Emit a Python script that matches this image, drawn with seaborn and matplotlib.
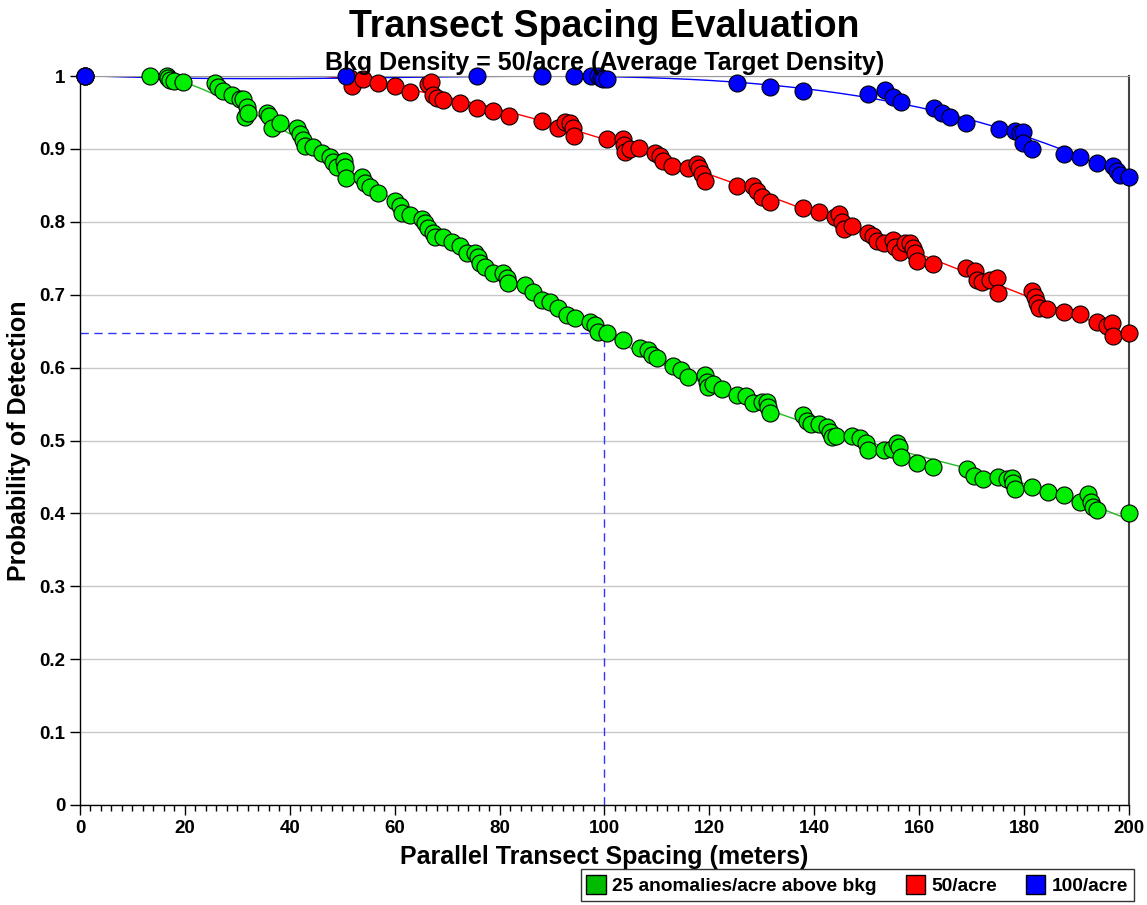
import matplotlib
matplotlib.use("Agg")
import matplotlib.pyplot as plt
from matplotlib.patches import Patch
from matplotlib.ticker import MultipleLocator
import numpy as np
import pandas as pd
import seaborn as sns

# values
green_x = [1.0, 13.3, 16.6, 16.8, 17.2, 17.9, 19.6, 25.7, 26.3, 27.3, 29.0, 30.5, 31.1, 31.8, 32.0, 31.5,
           35.7, 36.0, 36.6, 38.1, 41.4, 41.9, 42.5, 42.9, 44.4, 46.1, 47.7, 48.2, 49.0, 50.3, 50.5, 50.7,
           53.8, 54.3, 55.3, 56.8, 60.1, 61.0, 61.4, 62.9, 65.2, 65.8, 66.3, 67.3, 67.7, 69.2, 70.9, 72.5,
           73.8, 75.3, 75.9, 76.3, 77.2, 78.7, 80.6, 81.4, 81.6, 84.8, 86.4, 88.1, 89.6, 91.1, 92.8, 94.4,
           97.2, 98.2, 98.8, 100.5, 103.5, 106.8, 108.3, 109.1, 110.0, 113.1, 114.6, 115.9, 119.2, 119.5,
           119.7, 120.7, 122.4, 125.3, 127.0, 128.3, 130.0, 131.0, 131.2, 131.6, 137.8, 138.6, 139.4, 140.9,
           142.4, 143.0, 143.4, 144.1, 147.2, 148.7, 149.9, 150.2, 153.3, 154.8, 155.8, 156.1, 156.5, 159.6,
           162.6, 169.1, 170.5, 172.2, 175.0, 176.7, 177.7, 177.9, 178.3, 181.5, 184.6, 187.6, 190.7, 192.2,
           192.8, 193.1, 193.9, 200.0]
green_y = [1.000, 1.000, 1.000, 0.997, 0.995, 0.993, 0.992, 0.990, 0.985, 0.979, 0.974, 0.968, 0.968, 0.957,
           0.949, 0.944, 0.949, 0.945, 0.929, 0.936, 0.929, 0.920, 0.912, 0.904, 0.903, 0.894, 0.889, 0.882,
           0.875, 0.883, 0.875, 0.860, 0.861, 0.853, 0.848, 0.840, 0.829, 0.822, 0.812, 0.809, 0.804, 0.798,
           0.791, 0.785, 0.779, 0.779, 0.772, 0.767, 0.757, 0.757, 0.752, 0.743, 0.738, 0.730, 0.730, 0.723,
           0.716, 0.713, 0.704, 0.693, 0.690, 0.682, 0.672, 0.668, 0.663, 0.658, 0.649, 0.647, 0.638, 0.627,
           0.624, 0.617, 0.613, 0.602, 0.597, 0.587, 0.590, 0.580, 0.573, 0.578, 0.571, 0.562, 0.561, 0.551,
           0.553, 0.553, 0.546, 0.538, 0.535, 0.527, 0.523, 0.523, 0.519, 0.512, 0.505, 0.506, 0.506, 0.503,
           0.497, 0.487, 0.487, 0.488, 0.497, 0.491, 0.477, 0.469, 0.464, 0.461, 0.451, 0.447, 0.450, 0.447,
           0.449, 0.442, 0.433, 0.436, 0.429, 0.425, 0.416, 0.427, 0.416, 0.409, 0.405, 0.401]

red_x = [1.0, 51.5, 51.9, 54.0, 56.8, 60.1, 62.9, 66.3, 66.9, 67.3, 68.1, 69.2, 72.5, 75.7, 78.7, 81.8,
         88.1, 91.1, 92.5, 93.4, 94.0, 94.2, 100.5, 103.5, 103.7, 103.9, 104.9, 106.6, 109.6, 110.6, 111.2,
         112.9, 115.9, 117.6, 118.0, 118.6, 119.2, 125.3, 128.3, 129.1, 130.0, 131.6, 137.8, 140.9, 143.9,
         144.7, 145.3, 145.7, 147.2, 150.2, 151.2, 152.0, 153.3, 155.0, 155.4, 156.3, 157.3, 158.2, 158.8,
         159.2, 159.6, 162.6, 168.9, 170.6, 171.0, 172.0, 173.5, 174.8, 175.0, 181.5, 182.1, 182.5, 182.8,
         184.4, 187.6, 190.7, 193.9, 195.8, 196.8, 196.9, 200.0]
red_y = [1.000, 0.997, 0.986, 0.996, 0.990, 0.986, 0.978, 0.989, 0.992, 0.974, 0.970, 0.967, 0.963, 0.956,
         0.952, 0.945, 0.938, 0.929, 0.937, 0.936, 0.929, 0.918, 0.914, 0.914, 0.905, 0.896, 0.900, 0.901,
         0.894, 0.890, 0.883, 0.877, 0.874, 0.879, 0.874, 0.866, 0.856, 0.849, 0.849, 0.842, 0.834, 0.827,
         0.819, 0.813, 0.807, 0.811, 0.800, 0.790, 0.794, 0.785, 0.781, 0.774, 0.771, 0.775, 0.765, 0.759,
         0.771, 0.771, 0.764, 0.757, 0.746, 0.742, 0.737, 0.733, 0.720, 0.717, 0.720, 0.723, 0.702, 0.705,
         0.697, 0.689, 0.682, 0.680, 0.676, 0.674, 0.663, 0.657, 0.661, 0.643, 0.647]

blue_x = [1.0, 50.7, 75.7, 88.1, 94.2, 97.4, 98.8, 99.3, 99.7, 100.5, 125.3, 131.6, 137.8, 150.2, 153.5,
          155.0, 156.5, 162.8, 164.3, 165.9, 168.9, 175.2, 178.3, 179.2, 179.8, 179.8, 181.5, 187.6, 190.7,
          193.9, 196.9, 197.7, 198.3, 200.0]
blue_y = [1.000, 1.000, 1.000, 1.000, 1.000, 1.000, 1.000, 0.997, 0.996, 0.996, 0.990, 0.985, 0.979, 0.975,
          0.981, 0.971, 0.964, 0.956, 0.949, 0.944, 0.936, 0.927, 0.925, 0.922, 0.923, 0.908, 0.900, 0.893,
          0.889, 0.881, 0.876, 0.870, 0.864, 0.861]

ref_spacing = 100
ref_pd = 0.647

y_ticks = [0, 0.1, 0.2, 0.3, 0.4, 0.5, 0.6, 0.7, 0.8, 0.9, 1]
y_ticklabels = ["0", "0.1", "0.2", "0.3", "0.4", "0.5", "0.6", "0.7", "0.8", "0.9", "1"]

series = [
    ("25 anomalies/acre above bkg", green_x, green_y, "#00ee00", "#22bb22", "#00bb00"),
    ("50/acre", red_x, red_y, "#ff0000", "#ff0000", "#ff0000"),
    ("100/acre", blue_x, blue_y, "#0000ff", "#0000ff", "#0000ff"),
]

sns.set_style("white")
plt.rcParams['font.family'] = ['Liberation Sans', 'DejaVu Sans']
plt.rcParams['font.weight'] = 'bold'
plt.rcParams['text.color'] = 'black'
plt.rcParams['xtick.color'] = 'black'
plt.rcParams['ytick.color'] = 'black'
plt.rcParams['axes.labelcolor'] = 'black'

fig = plt.figure(figsize=(11.47, 9.05), dpi=100)
ax = fig.add_axes([0.0697, 0.1105, 0.9146, 0.8055])

for name, xs, ys, fc, lc, _ in series:
    df = pd.DataFrame({"x": xs, "y": ys}).sort_values("x")
    # smooth trend through the points
    coef = np.polyfit(df["x"], df["y"], 4)
    xx = np.linspace(df["x"].min(), df["x"].max(), 300)
    yy = np.clip(np.polyval(coef, xx), None, 1.0)
    sns.lineplot(x=xx, y=yy, ax=ax, color=lc, lw=1, zorder=2)
    sns.scatterplot(data=df, x="x", y="y", ax=ax, color=fc, edgecolor="black",
                    linewidth=0.8, s=150, zorder=3, clip_on=False)

# reference dashed lines
ax.plot([0, ref_spacing], [ref_pd, ref_pd], ls=(0, (6, 4)), color="#3333ff", lw=1, zorder=1)
ax.plot([ref_spacing, ref_spacing], [0, ref_pd], ls=(0, (6, 4)), color="#3333ff", lw=1, zorder=1)

ax.set_xlim(0, 200)
ax.set_ylim(0, 1)
ax.xaxis.set_major_locator(MultipleLocator(20))
ax.xaxis.set_minor_locator(MultipleLocator(2))
ax.set_yticks(y_ticks)
ax.set_yticklabels(y_ticklabels)
ax.grid(axis="y", color="#c8c8c8", lw=1)
ax.tick_params(axis="both", which="major", direction="out", length=7, width=1, labelsize=13.5,
               bottom=True, left=True)
ax.tick_params(axis="x", which="minor", direction="out", length=4, width=1, bottom=True)
for lab in ax.get_xticklabels() + ax.get_yticklabels():
    lab.set_fontweight("bold")

for side in ["left", "bottom"]:
    ax.spines[side].set_color("black")
    ax.spines[side].set_linewidth(1)
ax.spines["top"].set_color("#999999")
ax.spines["right"].set_color("#444444")
ax.spines["right"].set_linewidth(1.5)

ax.set_xlabel("Parallel Transect Spacing (meters)", fontsize=18, fontweight="bold", labelpad=6)
ax.set_ylabel("Probability of Detection", fontsize=18, fontweight="bold", labelpad=6)

fig.text(0.527, 0.970, "Transect Spacing Evaluation", ha="center", va="center",
         fontsize=27, fontweight="bold")
fig.text(0.527, 0.930, "Bkg Density = 50/acre (Average Target Density)", ha="center", va="center",
         fontsize=18, fontweight="bold")

handles = [Patch(facecolor=pc, edgecolor="black", label=name) for name, _, _, _, _, pc in series]
leg = fig.legend(handles=handles, loc="lower right", bbox_to_anchor=(0.997, -0.006), ncol=3,
                 fontsize=13.8, frameon=True, fancybox=False, edgecolor="black",
                 handlelength=1.0, handleheight=1.2, handletextpad=0.35, columnspacing=1.5,
                 borderpad=0.3)
leg.get_frame().set_linewidth(1)
for t in leg.get_texts():
    t.set_fontweight("bold")

fig.savefig("out.png", dpi=100)
